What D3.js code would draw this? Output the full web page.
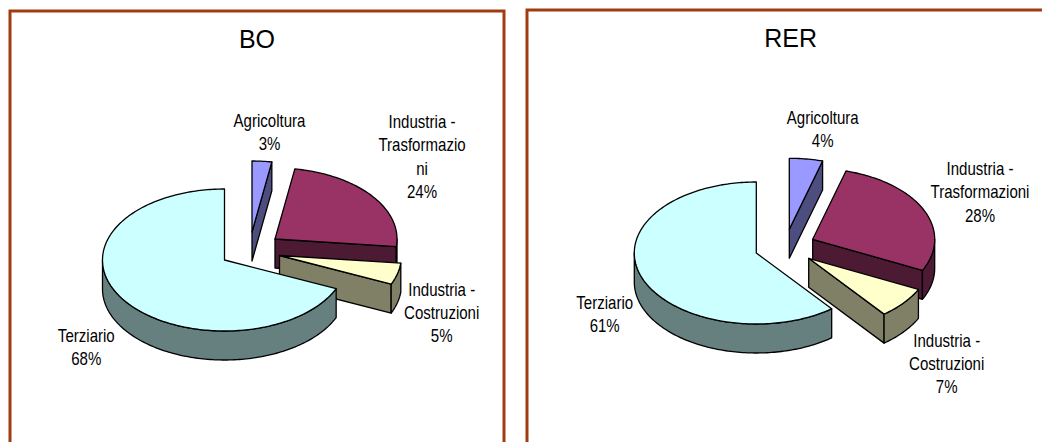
<!DOCTYPE html>
<html>
<head>
<meta charset="utf-8">
<script src="https://cdn.jsdelivr.net/npm/d3@7"></script>
<style>
  html, body { margin: 0; padding: 0; background: #fff; overflow: hidden; }
  svg { display: block; }
  text { font-family: "Liberation Sans", Arial, sans-serif; fill: #000; text-anchor: middle; }
</style>
</head>
<body>
<svg id="chart" width="1042" height="442"></svg>
<script>
'use strict';

var categories = ['Agricoltura', 'Industria - Trasformazioni', 'Industria - Costruzioni', 'Terziario'];
var boValues = [2.6, 24.1, 4.9, 68.4];
var rerValues = [4.4, 27.8, 7.2, 60.6];
var boLabels = [['Agricoltura'], ['Industria -', 'Trasformazio', 'ni'], ['Industria -', 'Costruzioni'], ['Terziario']];
var rerLabels = [['Agricoltura'], ['Industria -', 'Trasformazioni'], ['Industria -', 'Costruzioni'], ['Terziario']];

var topColors = ['#9999ff', '#993366', '#ffffcc', '#ccffff'];
var wallColors = ['#4d4d80', '#4d1a33', '#808066', '#668080'];

var rx = 122, ry = 71, depth = 29;
var lineHeight = 23.4;

// one entry per panel; offsets are the exploded slice origins
var panels = [
  {
    title: 'BO', values: boValues, labels: boLabels,
    frame: {x: 10, y: 11, width: 494, height: 500},
    titlePos: [257, 48],
    center: [224.5, 260],
    offsets: [[27.5, -28], [50.5, -21], [55, -4.5], [0, 0]],
    labelPos: [[269.5, 126.5], [422, 128], [441.7, 295.5], [86.3, 341.5]]
  },
  {
    title: 'RER', values: rerValues, labels: rerLabels,
    frame: {x: 527, y: 10, width: 600, height: 500},
    titlePos: [790.7, 46.5],
    center: [756.3, 253],
    offsets: [[33, -23.7], [56.4, -13.7], [52.4, 5.3], [0, 0]],
    labelPos: [[822.7, 124], [980, 175], [946.7, 346.5], [604.7, 308.5]]
  }
];

var svg = d3.select('#chart');
var pie = d3.pie().sort(null).startAngle(0).endAngle(2 * Math.PI);
var line = d3.line();

function project(a) {
  return [rx * Math.sin(a), -ry * Math.cos(a)];
}

function arcPoints(a0, a1) {
  var n = Math.max(2, Math.ceil((a1 - a0) / 0.02));
  return d3.range(n + 1).map(function (i) {
    return project(a0 + (a1 - a0) * i / n);
  });
}

function down(points) {
  return points.map(function (p) { return [p[0], p[1] + depth]; });
}

function radialWall(a) {
  var p = project(a);
  return line([[0, 0], p, [p[0], p[1] + depth], [0, depth]]) + 'Z';
}

function outerWall(a0, a1) {
  // only the front half of the rim can be seen
  var from = Math.max(a0, Math.PI / 2), to = Math.min(a1, 3 * Math.PI / 2);
  if (to <= from) return null;
  var pts = arcPoints(from, to);
  return line(pts.concat(down(pts).reverse())) + 'Z';
}

function drawPanel(panel) {
  svg.append('rect')
    .attr('x', panel.frame.x)
    .attr('y', panel.frame.y)
    .attr('width', panel.frame.width)
    .attr('height', panel.frame.height)
    .attr('fill', 'none')
    .attr('stroke', '#a23c10')
    .attr('stroke-width', 3);

  svg.append('text')
    .attr('x', panel.titlePos[0])
    .attr('y', panel.titlePos[1])
    .style('font-size', '25px')
    .text(panel.title);

  var slices = svg.append('g')
    .attr('transform', 'translate(' + panel.center[0] + ',' + panel.center[1] + ')')
    .selectAll('g')
    .data(pie(panel.values))
    .enter()
    .append('g')
    .attr('transform', function (d, i) {
      return 'translate(' + panel.offsets[i][0] + ',' + panel.offsets[i][1] + ')';
    })
    .attr('stroke', '#000')
    .attr('stroke-width', 1.3)
    .attr('stroke-linejoin', 'round');

  // the wall on the clockwise side of a slice faces us when the angle is under 180
  slices.filter(function (d) { return Math.sin(d.endAngle) > 0.001; })
    .append('path')
    .attr('fill', function (d) { return wallColors[d.index]; })
    .attr('d', function (d) { return radialWall(d.endAngle); });

  slices.filter(function (d) { return outerWall(d.startAngle, d.endAngle) !== null; })
    .append('path')
    .attr('fill', function (d) { return wallColors[d.index]; })
    .attr('d', function (d) { return outerWall(d.startAngle, d.endAngle); });

  slices.append('path')
    .attr('fill', function (d) { return topColors[d.index]; })
    .attr('d', function (d) {
      return line([[0, 0]].concat(arcPoints(d.startAngle, d.endAngle))) + 'Z';
    });

  panel.labels.forEach(function (lines, i) {
    // the labels in the source are tall and narrow, so squeeze them sideways
    var text = svg.append('text')
      .attr('transform', 'translate(' + panel.labelPos[i][0] + ',' + panel.labelPos[i][1] + ') scale(0.86,1)')
      .style('font-size', '17.5px');
    lines.concat([Math.round(panel.values[i]) + '%']).forEach(function (s, j) {
      text.append('tspan')
        .attr('x', 0)
        .attr('dy', j === 0 ? 0 : lineHeight)
        .text(s);
    });
  });
}

panels.forEach(drawPanel);
</script>
</body>
</html>
